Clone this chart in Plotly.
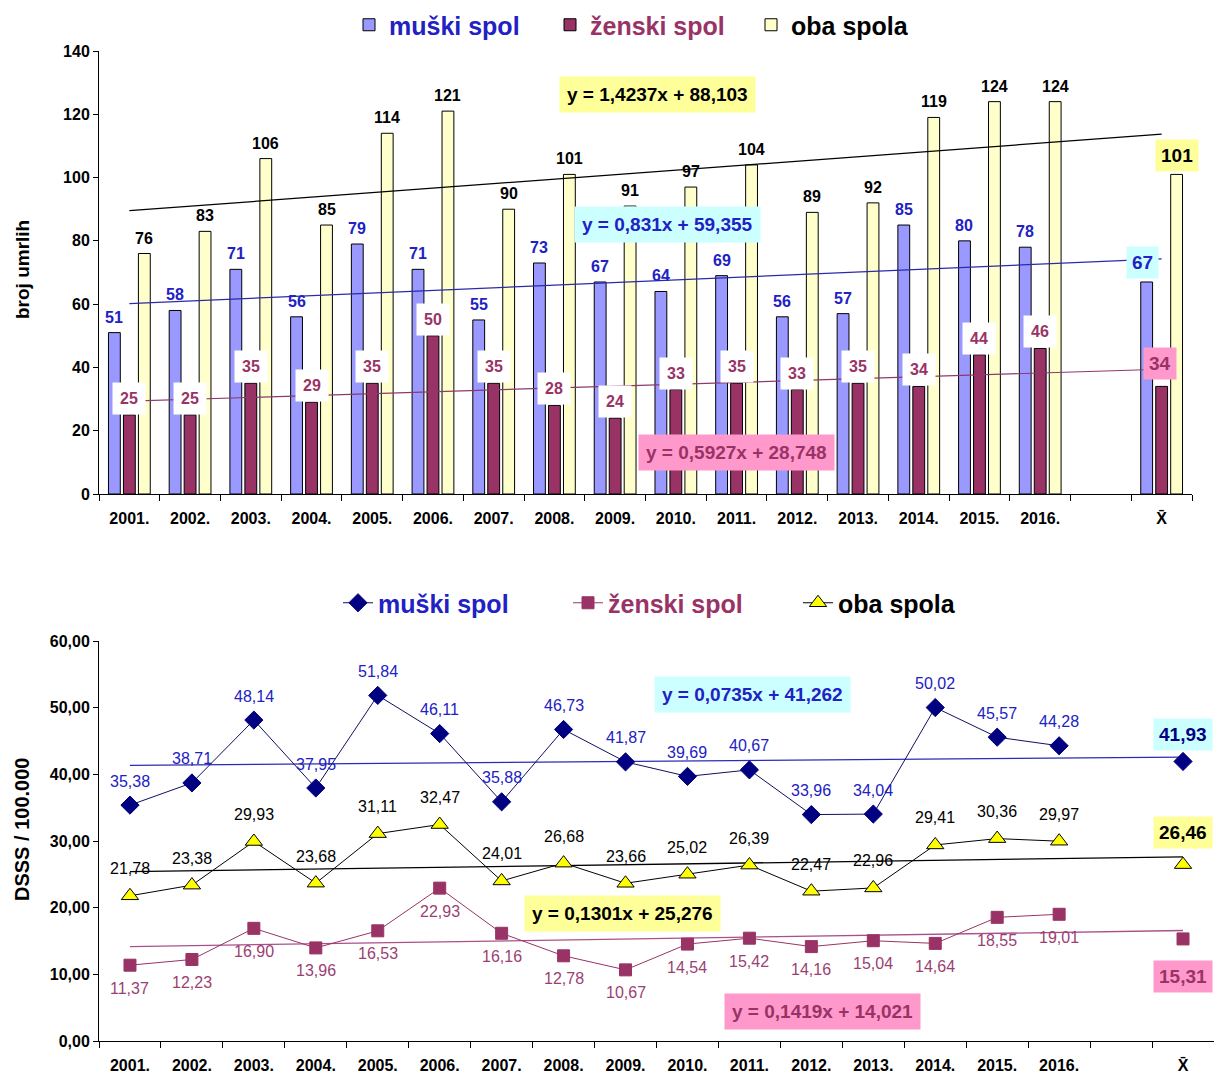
import plotly.graph_objects as go

W, H = 1214, 1073

# ---------------- data ----------------
categories = ["2001.", "2002.", "2003.", "2004.", "2005.", "2006.", "2007.", "2008.",
              "2009.", "2010.", "2011.", "2012.", "2013.", "2014.", "2015.", "2016.", "", "X\u0304"]

series_names = ["muški spol", "ženski spol", "oba spola"]

# broj umrlih (top chart)
deaths_male = [51, 58, 71, 56, 79, 71, 55, 73, 67, 64, 69, 56, 57, 85, 80, 78]
deaths_female = [25, 25, 35, 29, 35, 50, 35, 28, 24, 33, 35, 33, 35, 34, 44, 46]
deaths_both = [76, 83, 106, 85, 114, 121, 90, 101, 91, 97, 104, 89, 92, 119, 124, 124]
deaths_mean = [67, 34, 101]  # male, female, both

# DSSS / 100.000 (bottom chart)
rate_male = [35.38, 38.71, 48.14, 37.95, 51.84, 46.11, 35.88, 46.73, 41.87, 39.69, 40.67,
             33.96, 34.04, 50.02, 45.57, 44.28]
rate_female = [11.37, 12.23, 16.90, 13.96, 16.53, 22.93, 16.16, 12.78, 10.67, 14.54, 15.42,
               14.16, 15.04, 14.64, 18.55, 19.01]
rate_both = [21.78, 23.38, 29.93, 23.68, 31.11, 32.47, 24.01, 26.68, 23.66, 25.02, 26.39,
             22.47, 22.96, 29.41, 30.36, 29.97]
rate_mean = [41.93, 15.31, 26.46]  # male, female, both

# linear trend equations (slope, intercept) shown on the chart
deaths_trend_male = [0.831, 59.355]
deaths_trend_female = [0.5927, 28.748]
deaths_trend_both = [1.4237, 88.103]
rate_trend_male = [0.0735, 41.262]
rate_trend_female = [0.1419, 14.021]
rate_trend_both = [0.1301, 25.276]

# ---------------- helpers ----------------
FONT = "Liberation Sans, Arial, sans-serif"
N = len(categories)
pos = list(range(1, N + 1))          # category index positions (Excel x = 1..N)
year_pos = pos[:16]


def px(x):
    return x / W


def py(y):
    return 1 - y / H


def full(vals, mean):
    return vals + [None, mean]


def trend(coef):
    a, b = coef
    return [a * pos[0] + b, a * pos[-1] + b]


def fmt(v):
    return f"{v:.2f}".replace(".", ",")


C_MALE_BAR = "#9999FF"
C_FEMALE = "#993366"
C_BOTH_BAR = "#FFFFCC"
C_BLUE_TXT = "#2121C4"
C_CYAN = "#CCFFFF"
C_YELLOW = "#FFFF99"
C_PINK = "#FF99CC"

fig = go.Figure()

# ---------------- top chart: bars ----------------
bar_specs = [
    (series_names[0], deaths_male, deaths_mean[0], C_MALE_BAR, C_BLUE_TXT),
    (series_names[1], deaths_female, deaths_mean[1], C_FEMALE, C_FEMALE),
    (series_names[2], deaths_both, deaths_mean[2], C_BOTH_BAR, "black"),
]
for name, vals, mean, col, txtcol in bar_specs:
    fig.add_trace(go.Bar(
        x=pos, y=full(vals, mean),
        name=f'<span style="color:{txtcol}">{name}</span>',
        marker=dict(color=col, line=dict(color="black", width=1)),
        xaxis="x", yaxis="y", legend="legend", hoverinfo="skip",
    ))

# top trend lines
for coef, col in [(deaths_trend_both, "black"), (deaths_trend_male, "#2B2BA8"),
                  (deaths_trend_female, "#8B3A6A")]:
    fig.add_trace(go.Scatter(
        x=[pos[0], pos[-1]], y=trend(coef), mode="lines",
        line=dict(color=col, width=1.2), showlegend=False, hoverinfo="skip",
        xaxis="x", yaxis="y",
    ))

# ---------------- bottom chart ----------------
for coef, col in [(rate_trend_male, "#2B2BB8"), (rate_trend_both, "black"),
                  (rate_trend_female, "#A8508A")]:
    fig.add_trace(go.Scatter(
        x=[pos[0], pos[-1]], y=trend(coef), mode="lines",
        line=dict(color=col, width=1.3), showlegend=False, hoverinfo="skip",
        xaxis="x2", yaxis="y2",
    ))

line_specs = [
    (series_names[0], rate_male, rate_mean[0], "diamond", 14, "#000080", "#000080", "#101060", C_BLUE_TXT),
    (series_names[1], rate_female, rate_mean[1], "square", 12, C_FEMALE, C_FEMALE, C_FEMALE, C_FEMALE),
    (series_names[2], rate_both, rate_mean[2], "triangle-up", 15, "#FFFF00", "black", "black", "black"),
]
for name, vals, mean, sym, size, mcol, mline, lcol, txtcol in line_specs:
    fig.add_trace(go.Scatter(
        x=pos, y=full(vals, mean), mode="lines+markers", connectgaps=False,
        name=f'<span style="color:{txtcol}">{name}</span>',
        marker=dict(symbol=sym, size=size, color=mcol, line=dict(color=mline, width=1)),
        line=dict(color=lcol, width=1),
        xaxis="x2", yaxis="y2", legend="legend2", hoverinfo="skip",
    ))

# ---------------- annotations ----------------
ann = []
bar_offsets = [-15, 0, 15]

# top chart bar labels
for k, (name, vals, mean, col, txtcol) in enumerate(bar_specs):
    for xp, v in zip(year_pos, vals):
        a = dict(x=xp, y=v, xref="x", yref="y", text=f"<b>{v}</b>", showarrow=False,
                 xshift=bar_offsets[k], xanchor="center", yanchor="bottom", yshift=5,
                 font=dict(family=FONT, size=16, color=txtcol))
        if k == 1:
            a.update(bgcolor="white", borderpad=7, yshift=0)
        ann.append(a)

# top chart mean labels
mean_top_style = [(C_CYAN, C_BLUE_TXT, -4, 19), (C_PINK, C_FEMALE, -2, 23), (C_YELLOW, "black", 0, 19)]
for k, v in enumerate(deaths_mean):
    bg, tc, dx, dy = mean_top_style[k]
    ann.append(dict(x=pos[-1], y=v, xref="x", yref="y", text=f"<b>{v}</b>", showarrow=False,
                    xanchor="center", yanchor="middle",
                    xshift=bar_offsets[k] + dx, yshift=dy, bgcolor=bg, borderpad=5,
                    font=dict(family=FONT, size=19, color=tc)))

# bottom chart point labels
pt_specs = [(rate_male, C_BLUE_TXT, 24), (rate_female, "#9B3F72", -23), (rate_both, "black", 27)]
for vals, tc, dy in pt_specs:
    for xp, v in zip(year_pos, vals):
        ann.append(dict(x=xp, y=v, xref="x2", yref="y2", text=fmt(v), showarrow=False,
                        xanchor="center", yanchor="middle",
                        yshift=dy, font=dict(family=FONT, size=16, color=tc)))

mean_bot_style = [(C_CYAN, "#000080", 27), (C_PINK, C_FEMALE, -38), (C_YELLOW, "black", 32)]
for k, v in enumerate(rate_mean):
    bg, tc, dy = mean_bot_style[k]
    ann.append(dict(x=pos[-1], y=v, xref="x2", yref="y2", text=f"<b>{fmt(v)}</b>",
                    showarrow=False, xanchor="center", yanchor="middle",
                    yshift=dy, bgcolor=bg, borderpad=5,
                    font=dict(family=FONT, size=19, color=tc)))


# equation boxes
def eq_text(coef, digits):
    a, b = coef
    return "<b>y = " + f"{a:.{digits[0]}f}".replace(".", ",") + "x + " + \
        f"{b:.{digits[1]}f}".replace(".", ",") + "</b>"


eqs = [
    (eq_text(deaths_trend_both, (4, 3)), 657, 95, C_YELLOW, "black"),
    (eq_text(deaths_trend_male, (3, 3)), 667, 224, C_CYAN, C_BLUE_TXT),
    (eq_text(deaths_trend_female, (4, 3)), 737, 452, C_PINK, C_FEMALE),
    (eq_text(rate_trend_male, (4, 3)), 752, 694, C_CYAN, C_BLUE_TXT),
    (eq_text(rate_trend_both, (4, 3)), 622, 913, C_YELLOW, "black"),
    (eq_text(rate_trend_female, (4, 3)), 822, 1011, C_PINK, C_FEMALE),
]
for t, x, y, bg, tc in eqs:
    ann.append(dict(x=px(x), y=py(y), xref="paper", yref="paper", text=t, showarrow=False,
                    xanchor="center", yanchor="middle",
                    bgcolor=bg, borderpad=7, font=dict(family=FONT, size=19, color=tc)))

# y axis titles
ann.append(dict(x=px(22), y=py(270), xref="paper", yref="paper", text="<b>broj umrlih</b>",
                xanchor="center", yanchor="middle",
                textangle=-90, showarrow=False, font=dict(family=FONT, size=19, color="black")))
ann.append(dict(x=px(22), y=py(830), xref="paper", yref="paper", text="<b>DSSS / 100.000</b>",
                xanchor="center", yanchor="middle",
                textangle=-90, showarrow=False, font=dict(family=FONT, size=20, color="black")))

# ---------------- layout ----------------
axis_common = dict(showline=True, linecolor="black", linewidth=1, tickcolor="black",
                   showgrid=False, zeroline=False, fixedrange=True, automargin=False)
xcommon = dict(axis_common, type="linear", range=[pos[0] - 0.5, pos[-1] + 0.5],
               tickmode="array", tickvals=pos, ticktext=categories, ticks="",
               minor=dict(tickmode="linear", tick0=0.5, dtick=1, ticks="outside",
                          ticklen=6, tickcolor="black", showgrid=False),
               tickfont=dict(family=FONT, size=16, color="black", weight="bold"),
               tickangle=0, ticklabelstandoff=10)

fig.update_layout(
    width=W, height=H, margin=dict(l=0, r=0, t=0, b=0, autoexpand=False),
    paper_bgcolor="white", plot_bgcolor="white",
    separators=",.",
    barmode="group", bargap=0.26, bargroupgap=0.21,
    xaxis=dict(xcommon, domain=[px(99), px(1192)], anchor="y"),
    yaxis=dict(axis_common, domain=[py(494), py(51)], range=[0, 140], dtick=20,
               ticks="outside", ticklen=5, anchor="x",
               tickfont=dict(family=FONT, size=16, color="black", weight="bold")),
    xaxis2=dict(xcommon, domain=[px(99), 1.0], anchor="y2"),
    yaxis2=dict(axis_common, domain=[py(1041), py(641)], range=[0, 60], dtick=10,
                ticks="outside", ticklen=5, tickformat=".2f", anchor="x2",
                tickfont=dict(family=FONT, size=16, color="black", weight="bold")),
    legend=dict(orientation="h", x=px(349), xanchor="left", y=py(25), yanchor="middle",
                font=dict(family=FONT, size=25, color="black", weight="bold"),
                itemwidth=30, entrywidth=156, bgcolor="rgba(0,0,0,0)"),
    legend2=dict(orientation="h", x=px(338), xanchor="left", y=py(603), yanchor="middle",
                 font=dict(family=FONT, size=25, color="black", weight="bold"),
                 itemwidth=30, entrywidth=185, bgcolor="rgba(0,0,0,0)"),
    annotations=ann,
    showlegend=True,
)

fig.write_html("out.html", config={"displayModeBar": False},
               post_script="document.body.style.margin='0px';")
